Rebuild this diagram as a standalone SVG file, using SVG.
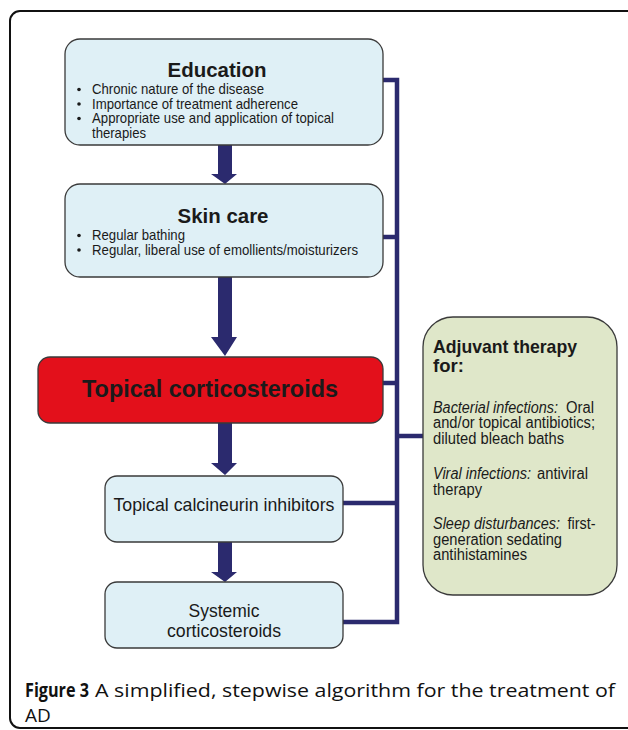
<svg xmlns="http://www.w3.org/2000/svg" width="628" height="730" viewBox="0 0 628 730">
<style>
.box{stroke:#3a3a3a;stroke-width:1.3}
.blue{fill:#dff0f6}
.t{font-family:"Liberation Sans",Arial,sans-serif;fill:#1a1a1a}
.title{font-size:20.5px;font-weight:bold;text-anchor:middle}
.bul{font-size:14.3px}
.mid{font-size:18.6px;text-anchor:middle}
.adj{font-size:15.6px}
.it{font-style:italic}
.arrow{fill:#2b2a6e}
.conn{fill:none;stroke:#2b2a6e;stroke-width:4.5;stroke-linejoin:miter}
.cap{font-family:"Open Sans","DejaVu Sans",sans-serif;font-size:19px;fill:#111}
.dot{fill:#1a1a1a}
</style>
<rect x="10" y="11" width="640" height="717" rx="10" fill="#fff" stroke="#111" stroke-width="2"/>

<g id="connectors">
<path class="conn" d="M383,80 H397 V622 H343"/>
<path class="conn" d="M383,237 H397"/>
<path class="conn" d="M383,383 H397"/>
<path class="conn" d="M343,503 H397"/>
<path class="conn" d="M397,436 H423"/>
<polygon class="arrow" points="218,145 232,145 232,174 237,174 225,184 211,174 218,174"/>
<polygon class="arrow" points="218,277 232,277 232,337 237,337 225,356 211,337 218,337"/>
<polygon class="arrow" points="218,423 232,423 232,463 237,463 225,475 211,463 218,463"/>
<polygon class="arrow" points="218,542 232,542 232,572 237,572 225,582 211,572 218,572"/>
</g>

<g id="education">
<rect class="box blue" x="65" y="39" width="318" height="106" rx="15"/>
<text class="t title" x="217" y="77" textLength="99" lengthAdjust="spacingAndGlyphs">Education</text>
<circle class="dot" cx="79" cy="89.5" r="1.8"/>
<circle class="dot" cx="79" cy="104" r="1.8"/>
<circle class="dot" cx="79" cy="118.5" r="1.8"/>
<text class="t bul" x="92" y="94" textLength="172" lengthAdjust="spacingAndGlyphs">Chronic nature of the disease</text>
<text class="t bul" x="92" y="108.5" textLength="206" lengthAdjust="spacingAndGlyphs">Importance of treatment adherence</text>
<text class="t bul" x="92" y="123" textLength="242" lengthAdjust="spacingAndGlyphs">Appropriate use and application of topical</text>
<text class="t bul" x="92" y="137.5" textLength="54" lengthAdjust="spacingAndGlyphs">therapies</text>
</g>

<g id="skincare">
<rect class="box blue" x="65" y="184" width="318" height="93" rx="15"/>
<text class="t title" x="223" y="223" textLength="91" lengthAdjust="spacingAndGlyphs">Skin care</text>
<circle class="dot" cx="79" cy="235.5" r="1.8"/>
<circle class="dot" cx="79" cy="250" r="1.8"/>
<text class="t bul" x="92" y="240" textLength="93" lengthAdjust="spacingAndGlyphs">Regular bathing</text>
<text class="t bul" x="92" y="254.5" textLength="266" lengthAdjust="spacingAndGlyphs">Regular, liberal use of emollients/moisturizers</text>
</g>

<g id="topical-corticosteroids">
<rect class="box" x="38" y="357" width="345" height="66" rx="12" fill="#e3101b"/>
<text class="t" x="210" y="397" font-size="24.5" font-weight="bold" text-anchor="middle" textLength="256" lengthAdjust="spacingAndGlyphs">Topical corticosteroids</text>
</g>

<g id="calcineurin">
<rect class="box blue" x="105" y="476" width="238" height="66" rx="12"/>
<text class="t mid" x="224" y="511" textLength="221" lengthAdjust="spacingAndGlyphs">Topical calcineurin inhibitors</text>
</g>

<g id="systemic">
<rect class="box blue" x="105" y="582" width="238" height="66" rx="12"/>
<text class="t mid" x="224" y="617" textLength="71" lengthAdjust="spacingAndGlyphs">Systemic</text>
<text class="t mid" x="224" y="637" textLength="114" lengthAdjust="spacingAndGlyphs">corticosteroids</text>
</g>

<g id="adjuvant">
<rect class="box" x="423" y="317" width="194" height="278" rx="30" fill="#dfe7c9"/>
<text class="t" x="433" y="353" font-size="18.5" font-weight="bold" textLength="144" lengthAdjust="spacingAndGlyphs">Adjuvant therapy</text>
<text class="t" x="433" y="372" font-size="18.5" font-weight="bold">for:</text>
<text class="t adj it" x="433" y="412.5" textLength="125" lengthAdjust="spacingAndGlyphs">Bacterial infections:</text>
<text class="t adj" x="566" y="412.5" textLength="28" lengthAdjust="spacingAndGlyphs">Oral</text>
<text class="t adj" x="433" y="428" textLength="162" lengthAdjust="spacingAndGlyphs">and/or topical antibiotics;</text>
<text class="t adj" x="433" y="443.5" textLength="131" lengthAdjust="spacingAndGlyphs">diluted bleach baths</text>
<text class="t adj it" x="433" y="479" textLength="98" lengthAdjust="spacingAndGlyphs">Viral infections:</text>
<text class="t adj" x="537" y="479" textLength="51" lengthAdjust="spacingAndGlyphs">antiviral</text>
<text class="t adj" x="433" y="494.5" textLength="49" lengthAdjust="spacingAndGlyphs">therapy</text>
<text class="t adj it" x="433" y="529" textLength="127" lengthAdjust="spacingAndGlyphs">Sleep disturbances:</text>
<text class="t adj" x="567.5" y="529" textLength="28" lengthAdjust="spacingAndGlyphs">first-</text>
<text class="t adj" x="433" y="544.5" textLength="129" lengthAdjust="spacingAndGlyphs">generation sedating</text>
<text class="t adj" x="433" y="560" textLength="94" lengthAdjust="spacingAndGlyphs">antihistamines</text>
</g>

<text class="cap" x="25" y="697" font-weight="bold" textLength="64" lengthAdjust="spacingAndGlyphs">Figure 3</text>
<text class="cap" x="95" y="697" textLength="520" lengthAdjust="spacingAndGlyphs">A simplified, stepwise algorithm for the treatment of</text>
<text class="cap" x="25" y="722">AD</text>
</svg>
